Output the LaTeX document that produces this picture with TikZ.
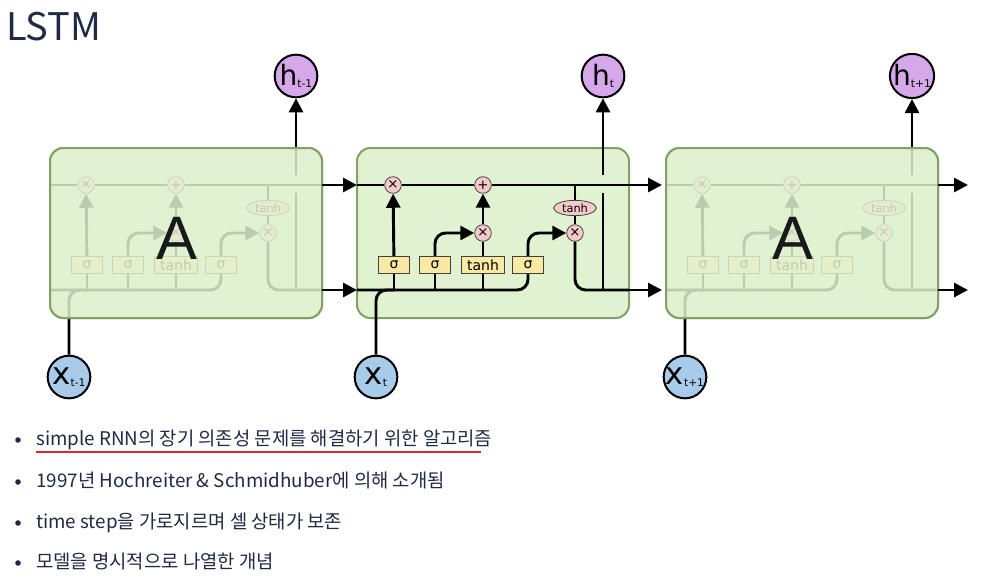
\documentclass[tikz,border=0pt]{standalone}
\usepackage{fontspec}
\setmainfont{DejaVu Sans}
\newfontfamily\kfont{Noto Sans CJK KR}
\newfontfamily\afont{Liberation Sans}
\usetikzlibrary{arrows.meta,shapes.geometric}

\definecolor{cellfill}{HTML}{E1F2D1}
\definecolor{celledge}{HTML}{82A068}
\definecolor{hcol}{HTML}{D6A8EA}
\definecolor{xcol}{HTML}{A9CBEA}
\definecolor{opcol}{HTML}{F5C9C9}
\definecolor{layercol}{HTML}{FAE9A3}
\definecolor{textcol}{HTML}{1F2A44}
\definecolor{marker}{HTML}{E3242B}

\tikzset{
  cellbox/.style={draw=celledge, line width=1.5pt, fill=cellfill, rounded corners=10pt,
    minimum width=204pt, minimum height=127.5pt, inner sep=0pt},
  wire/.style={line width=2.2pt},
  arr/.style={line width=2.2pt, -{Triangle[length=10.5pt,width=10.5pt]}},
  op/.style={circle, draw=black!75, line width=0.6pt, fill=opcol, minimum size=12.5pt,
    inner sep=0pt, font=\fontsize{10}{10}\selectfont},
  squash/.style={ellipse, draw=black!75, line width=0.6pt, fill=opcol, minimum width=32pt,
    minimum height=11.5pt, inner sep=0pt, font=\fontsize{8.5}{8.5}\selectfont},
  layer/.style={draw=black!75, line width=0.6pt, fill=layercol, minimum height=13pt,
    minimum width=23pt, inner sep=0pt, font=\fontsize{10.5}{10.5}\selectfont},
  hnode/.style={circle, draw, line width=1.5pt, fill=hcol, minimum size=32pt, inner sep=0pt},
  xnode/.style={circle, draw, line width=1.5pt, fill=xcol, minimum size=32pt, inner sep=0pt},
  dot/.style={circle, fill=textcol, minimum size=4.2pt, inner sep=0pt},
  bullet/.style={anchor=base west, inner sep=0pt, text=textcol,
    font=\kfont\fontsize{14.1}{14.1}\selectfont},
}

\begin{document}
\begin{tikzpicture}[x=0.75pt, y=-0.75pt]
\useasboundingbox (0,0) rectangle (996,578);

\node[anchor=base west, inner sep=0pt, text=textcol, font=\kfont\fontsize{28.5}{28.5}\selectfont] (title) at (6,40) {LSTM};

% cell boxes
\foreach \n/\ox in {1/50, 2/357, 3/666}
  \node[cellbox] (c\n) at (\ox+136,233) {};

% inside of each cell
\foreach \n/\ox/\lab in {1/50/t-1, 2/357/t, 3/666/t+1}{
\begin{scope}[shift={(\ox,0)}]
  \coordinate (tl\n) at (0,185);
  \coordinate (tr\n) at (272,185);
  \coordinate (bl\n) at (0,290);
  \coordinate (br\n) at (272,290);
  \coordinate (hv\n) at (246,290);
  \node[op] (f\n) at (36,185) {×};
  \node[op] (p\n) at (126,185) {+};
  \node[op] (i\n) at (126,233) {×};
  \node[op] (o\n) at (218,233) {×};
  \node[squash] (th\n) at (218,208) {tanh};
  \node[layer] (sa\n) at (37,265) {σ};
  \node[layer] (sb\n) at (78,265) {σ};
  \node[layer, minimum width=32pt] (tb\n) at (126,265) {tanh};
  \node[layer] (sc\n) at (171,265) {σ};
  \node[hnode] (h\n) at (246,76) {{\fontsize{21}{21}\selectfont h}\raisebox{-1.5pt}{\fontsize{8}{8}\selectfont\lab}};
  \node[xnode] (x\n) at (19,377) {{\fontsize{23}{23}\selectfont x}\raisebox{-1.5pt}{\fontsize{8}{8}\selectfont\lab}};
  % cell state
  \draw[wire] (tl\n) -- (f\n) -- (p\n) -- (tr\n);
  % hidden state and input
  \draw[wire, rounded corners=8] (bl\n) -| (sc\n.south);
  \draw[wire, rounded corners=8] (x\n.north) |- (sa\n.south |- bl\n);
  \draw[wire] (sa\n.south) -- (sa\n.south |- bl\n);
  \draw[wire] (sb\n.south) -- (sb\n.south |- bl\n);
  \draw[wire] (tb\n.south) -- (tb\n.south |- bl\n);
  % gates
  \draw[arr] (sa\n) -- (f\n);
  \draw[arr, rounded corners=8] (sb\n.north) |- (i\n);
  \draw[wire] (tb\n) -- (i\n);
  \draw[arr] (i\n) -- (p\n);
  \draw[arr, rounded corners=8] (sc\n.north) |- (o\n);
  \draw[wire] (th\n.north) -- (th\n.north |- tl\n);
  \draw[wire] (th\n) -- (o\n);
  \draw[wire, rounded corners=8] (o\n.south) |- (br\n);
  % output
  \draw[wire] (hv\n) -- (246,193);
  \draw[arr] (246,175) -- (h\n);
\end{scope}}

% faded repeats
\foreach \n/\ox in {1/50, 3/666}{
  \node[cellbox, fill opacity=0.84] (veil\n) at (c\n) {};
  \node[font=\afont\fontsize{46}{46}\selectfont, text=black!90] (a\n) at (\ox+127,238) {A};
}

% links between cells
\coordinate (endc) at (968,185);
\coordinate (endh) at (968,290);
\draw[arr] (tr1) -- (tl2);
\draw[arr] (br1) -- (bl2);
\draw[arr, shorten >=3pt] (tr2) -- (tl3);
\draw[arr, shorten >=3pt] (br2) -- (bl3);
\draw[arr] (tr3) -- (endc);
\draw[arr] (br3) -- (endh);

% bullet list
\node[dot] (d1) at (18,440) {};
\node[dot] (d2) at (18,482) {};
\node[dot] (d3) at (18,523) {};
\node[dot] (d4) at (18,563) {};
\node[bullet] (b1) at (36,445) {simple RNN의 장기 의존성 문제를 해결하기 위한 알고리즘};
\node[bullet] (b2) at (36,487) {1997년 Hochreiter \& Schmidhuber에 의해 소개됨};
\node[bullet] (b3) at (36,528) {time step을 가로지르며 셀 상태가 보존};
\node[bullet] (b4) at (36,568) {모델을 명시적으로 나열한 개념};
\coordinate (ulend) at (481,452);
\draw[marker, line width=1.5pt] (b1.base west |- ulend) -- (ulend);
\end{tikzpicture}
\end{document}
